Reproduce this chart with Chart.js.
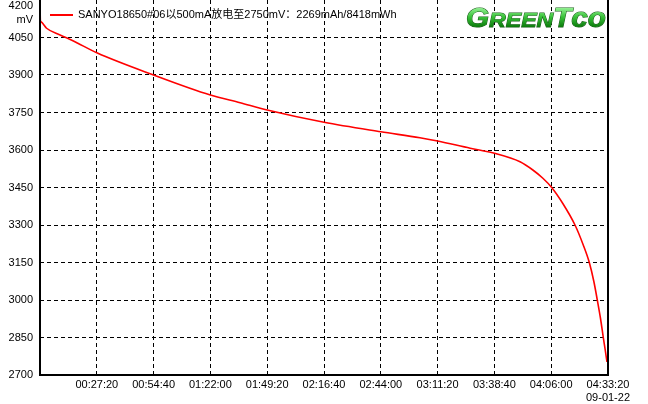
<!DOCTYPE html>
<html>
<head>
<meta charset="utf-8">
<script src="https://cdn.jsdelivr.net/npm/chart.js@4"></script>
<style>
  html, body { margin: 0; padding: 0; background: #fff; }
  #wrap { width: 648px; height: 404px; }
</style>
</head>
<body>
<div id="wrap"><canvas id="battChart" width="648" height="404"></canvas></div>
<script>
// -------------------------------
// DATA (time in seconds, voltage in mV)
// -------------------------------
const timeSec = [0, 10, 30, 190, 580, 950, 1640, 3280, 4920, 5780, 6560, 8200, 9840,
  10970, 11480, 12420, 13120, 13860, 14230, 14520, 14774, 15100, 15447, 15680,
  15860, 15990, 16091, 16185, 16264, 16320, 16370];
const voltage = [4200, 4120, 4113, 4087, 4060, 4037, 3989, 3900, 3820, 3789, 3760, 3711, 3673,
  3649, 3636, 3607, 3587, 3553, 3520, 3487, 3450, 3385, 3300, 3222,
  3150, 3075, 3000, 2925, 2850, 2800, 2752];
const yTicks = [4200, 4050, 3900, 3750, 3600, 3450, 3300, 3150, 3000, 2850, 2700];
const xTicks = [0, 1640, 3280, 4920, 6560, 8200, 9840, 11480, 13120, 14760, 16400];
const dateLabel = "09-01-22";
const legendText = "SANYO18650#06以500mA放电至2750mV：2269mAh/8418mWh";
const unitLabel = "mV";

const FONT = "11px 'Liberation Sans', Arial, 'Noto Sans CJK SC', sans-serif";

function fmtTime(s) {
  const h = Math.floor(s / 3600);
  const m = Math.floor((s % 3600) / 60);
  const sec = s % 60;
  const p = n => String(n).padStart(2, "0");
  return p(h) + ":" + p(m) + ":" + p(sec);
}

// -------------------------------
// PLUGIN: frame, y labels, legend, logo
// -------------------------------
const decorPlugin = {
  id: "decor",
  beforeDraw(chart) {
    const c = chart.ctx;
    c.save();
    c.fillStyle = "#fff";
    c.fillRect(0, 0, chart.width, chart.height);
    c.restore();
  },
  afterDraw(chart) {
    const c = chart.ctx;
    const a = chart.chartArea;
    const ys = chart.scales.y;
    c.save();

    // frame (left axis, bottom axis, right border)
    c.strokeStyle = "#000";
    c.lineWidth = 2;
    c.beginPath();
    c.moveTo(a.left, a.top);
    c.lineTo(a.left, a.bottom);
    c.lineTo(a.right, a.bottom);
    c.lineTo(a.right, a.top);
    c.stroke();

    // y labels
    c.font = FONT;
    c.fillStyle = "#000";
    c.textAlign = "right";
    c.textBaseline = "middle";
    yTicks.forEach(v => {
      let y = ys.getPixelForValue(v);
      if (y < 6) y = 6;
      c.fillText(String(v), 33, y);
    });
    c.fillText(unitLabel, 33, 20);

    // legend
    c.strokeStyle = "#ff0000";
    c.lineWidth = 2;
    c.beginPath();
    c.moveTo(50, 15);
    c.lineTo(73, 15);
    c.stroke();
    c.textAlign = "left";
    c.fillText(legendText, 78, 15);

    // logo
    const parts = [["G", 27], ["REEN", 21], ["T", 27], ["co", 27]];
    c.textBaseline = "alphabetic";
    let w = 0;
    parts.forEach(p => {
      c.font = "italic bold " + p[1] + "px 'Liberation Sans', Arial, sans-serif";
      w += c.measureText(p[0]).width;
    });
    const sx = 140 / w;
    c.translate(466, 27);
    c.scale(sx, 1);
    const g = c.createLinearGradient(0, -20, 0, 0);
    g.addColorStop(0, "#9af59a");
    g.addColorStop(0.5, "#39c239");
    g.addColorStop(1, "#0b7a0b");
    let x = 0;
    parts.forEach(p => {
      c.font = "italic bold " + p[1] + "px 'Liberation Sans', Arial, sans-serif";
      c.lineWidth = 1;
      c.strokeStyle = "#1d5e1d";
      c.strokeText(p[0], x, 0);
      c.fillStyle = g;
      c.fillText(p[0], x, 0);
      x += c.measureText(p[0]).width;
    });
    c.restore();
  }
};

// -------------------------------
// RENDER CHART
// -------------------------------
const points = timeSec.map((t, i) => ({ x: t, y: voltage[i] }));

new Chart(document.getElementById("battChart").getContext("2d"), {
  type: "line",
  data: {
    datasets: [{
      data: points,
      borderColor: "#ff0000",
      borderWidth: 1.6,
      pointRadius: 0,
      cubicInterpolationMode: "monotone",
      fill: false
    }]
  },
  options: {
    responsive: false,
    animation: false,
    layout: { padding: { top: 0, right: 40, left: 0, bottom: 0 } },
    plugins: { legend: { display: false }, tooltip: { enabled: false } },
    scales: {
      x: {
        type: "linear",
        min: 0,
        max: 16400,
        afterBuildTicks: s => { s.ticks = xTicks.map(v => ({ value: v })); },
        afterFit: s => { s.height = 29; },
        border: { display: false, dash: [4, 3] },
        grid: {
          drawTicks: false,
          color: ctx => (ctx.tick && (ctx.tick.value === 0 || ctx.tick.value === 16400)) ? "rgba(0,0,0,0)" : "#000",
          lineWidth: 1
        },
        ticks: {
          autoSkip: false,
          maxRotation: 0,
          padding: 3,
          color: "#000",
          font: { family: "'Liberation Sans', Arial, sans-serif", size: 11 },
          callback: v => v === 0 ? "" : (v === 16400 ? [fmtTime(v), dateLabel] : fmtTime(v))
        }
      },
      y: {
        min: 2700,
        max: 4200,
        afterBuildTicks: s => { s.ticks = yTicks.map(v => ({ value: v })); },
        afterFit: s => { s.width = 40; },
        border: { display: false, dash: [4, 3] },
        grid: {
          drawTicks: false,
          color: ctx => (ctx.tick && (ctx.tick.value === 2700 || ctx.tick.value === 4200)) ? "rgba(0,0,0,0)" : "#000",
          lineWidth: 1
        },
        ticks: { display: false }
      }
    }
  },
  plugins: [decorPlugin]
});
</script>
</body>
</html>
